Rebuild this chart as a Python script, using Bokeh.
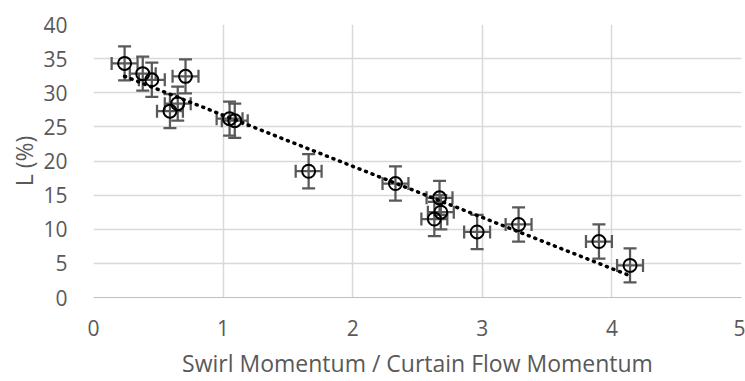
import numpy as np
from bokeh.plotting import figure
from bokeh.models import ColumnDataSource, Whisker, TeeHead, SingleIntervalTicker
from bokeh.embed import file_html
from bokeh.resources import INLINE

# Data
ratio = [0.24, 0.38, 0.45, 0.71, 0.59, 0.65, 1.05, 1.09, 1.66, 2.33, 2.67, 2.68, 2.63, 2.96, 3.28, 3.90, 4.14]
L_pct = [34.3, 32.8, 31.9, 32.4, 27.3, 28.4, 26.2, 25.9, 18.5, 16.7, 14.6, 12.5, 11.5, 9.6, 10.7, 8.2, 4.7]
x_err = [0.1] * len(ratio)
y_err = [2.5] * len(ratio)

x_title = "Swirl Momentum / Curtain Flow Momentum"
y_title = "L (%)"

FONT = "Open Sans"
GRAY = "#595959"

xs = np.array(ratio)
ys = np.array(L_pct)
src = ColumnDataSource(dict(
    x=xs, y=ys,
    xl=xs - np.array(x_err), xu=xs + np.array(x_err),
    yl=ys - np.array(y_err), yu=ys + np.array(y_err),
))

p = figure(width=745, height=381, x_range=(0, 5), y_range=(0, 40),
           output_backend="svg", toolbar_location=None,
           min_border_left=93, min_border_right=4, min_border_top=24, min_border_bottom=83)
p.outline_line_color = None
p.background_fill_color = "white"
p.border_fill_color = "white"

p.xaxis.ticker = SingleIntervalTicker(interval=1)
p.yaxis.ticker = SingleIntervalTicker(interval=5)
for ax in (p.xaxis[0], p.yaxis[0]):
    ax.major_tick_line_color = None
    ax.minor_tick_line_color = None
    ax.major_label_text_font = FONT
    ax.major_label_text_font_size = "21px"
    ax.major_label_text_color = GRAY
    ax.axis_label_text_font = FONT
    ax.axis_label_text_font_size = "23px"
    ax.axis_label_text_color = GRAY
    ax.axis_label_text_font_style = "normal"
p.xaxis.axis_line_color = "#bfbfbf"
p.yaxis.axis_line_color = None
p.xaxis.axis_label = x_title
p.yaxis.axis_label = y_title
p.xaxis.major_label_standoff = 16
p.yaxis.major_label_standoff = 20
p.xaxis.axis_label_standoff = 8
p.yaxis.axis_label_standoff = 0

p.xgrid.grid_line_color = "#d9d9d9"
p.ygrid.grid_line_color = "#d9d9d9"
p.xgrid.grid_line_width = 1.5
p.ygrid.grid_line_width = 1.5

# Linear trendline (least squares of the data)
m, b = np.polyfit(xs, ys, 1)
tx = np.array([xs.min(), xs.max()])
p.line(tx, m * tx + b, line_color="black", line_width=3.5, line_dash="1 6", line_cap="round")

# Error bars
vw = Whisker(source=src, base="x", upper="yu", lower="yl", dimension="height",
             line_color=GRAY, line_width=2.25,
             upper_head=TeeHead(size=13, line_color=GRAY, line_width=2.25),
             lower_head=TeeHead(size=13, line_color=GRAY, line_width=2.25))
hw = Whisker(source=src, base="y", upper="xu", lower="xl", dimension="width",
             line_color=GRAY, line_width=2.25,
             upper_head=TeeHead(size=13, line_color=GRAY, line_width=2.25),
             lower_head=TeeHead(size=13, line_color=GRAY, line_width=2.25))
p.add_layout(vw)
p.add_layout(hw)

p.scatter("x", "y", source=src, marker="circle", size=13, fill_color=None,
          line_color="black", line_width=2)

open("out.html", "w").write(file_html(p, INLINE))
